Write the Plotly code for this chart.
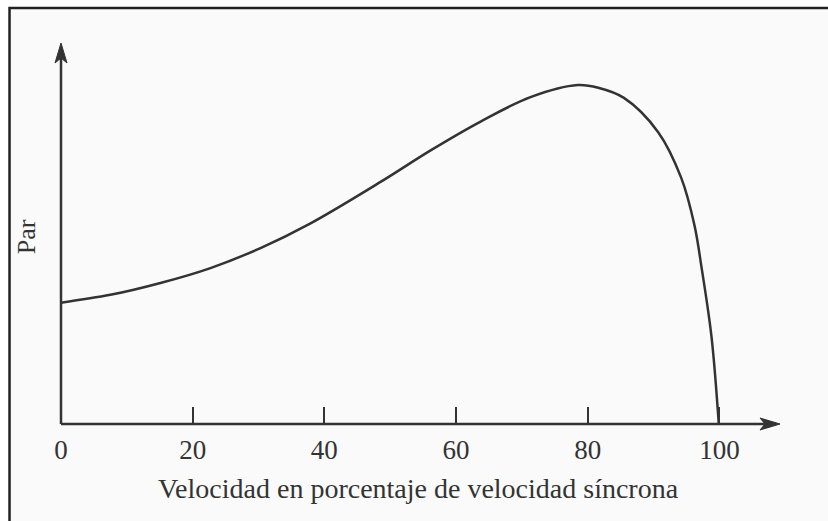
import plotly.graph_objects as go

# Curva par-velocidad de un motor de inducción (par en % del par máximo)
velocidad = [0, 7.5, 15.1, 22.7, 30.3, 37.9, 48.6, 56.2, 63.8, 71.4,
             78.5, 81.6, 85.5, 90.7, 94.2, 96.2, 97.3, 98.8, 99.9]
par = [35.8, 38.1, 41.6, 46.0, 51.9, 59.2, 71.5, 80.8, 89.3, 96.5,
       100.0, 99.2, 96.2, 86.1, 72.6, 58.7, 46.0, 25.7, 0.0]

ticks_x = [0, 20, 40, 60, 80, 100]

X_MAX = 109.2
Y_MAX = 112.4
COR_LINHA = "#333333"
FONTE = "Liberation Serif"

fig = go.Figure()
fig.add_trace(go.Scatter(
    x=velocidad, y=par,
    mode="lines",
    line=dict(color=COR_LINHA, width=2.5, shape="spline", smoothing=1.0),
    hoverinfo="skip",
    showlegend=False,
))

# ejes con flechas (en coordenadas de papel para que no se recorten)
eje = dict(color=COR_LINHA, width=2.5)
fig.add_shape(type="line", xref="paper", yref="paper",
              x0=0, y0=0, x1=0.985, y1=0, line=eje)
fig.add_shape(type="line", xref="paper", yref="paper",
              x0=0, y0=0, x1=0, y1=0.97, line=eje)
fig.add_shape(type="path", xref="paper", yref="paper",
              xsizemode="pixel", ysizemode="pixel", xanchor=1, yanchor=0,
              path="M 0,0 L -20,-6 L -15,0 L -20,6 Z",
              fillcolor=COR_LINHA, line=dict(color=COR_LINHA, width=1))
fig.add_shape(type="path", xref="paper", yref="paper",
              xsizemode="pixel", ysizemode="pixel", xanchor=0, yanchor=1,
              path="M 0,0 L -6,-20 L 0,-15 L 6,-20 Z",
              fillcolor=COR_LINHA, line=dict(color=COR_LINHA, width=1))

# marco de la figura escaneada
fig.add_shape(type="rect", xref="paper", yref="paper",
              x0=-0.0716, y0=-0.5, x1=1.5, y1=1.0919,
              fillcolor="#fafafa", line=dict(color="#222222", width=2.5),
              layer="below")

fig.add_annotation(
    text="Velocidad en porcentaje de velocidad síncrona",
    xref="paper", yref="paper", x=0.497, y=-0.168,
    xanchor="center", yanchor="middle", showarrow=False,
    font=dict(family=FONTE, size=28, color=COR_LINHA),
)
fig.add_annotation(
    text="Par", textangle=-90,
    xref="paper", yref="paper", x=-0.047, y=0.491,
    xanchor="center", yanchor="middle", showarrow=False,
    font=dict(family=FONTE, size=26, color=COR_LINHA),
)

fig.update_layout(
    width=828, height=521,
    margin=dict(l=61, r=48, t=43, b=97),
    paper_bgcolor="white",
    plot_bgcolor="rgba(0,0,0,0)",
    xaxis=dict(
        range=[0, X_MAX], showgrid=False, zeroline=False, showline=False,
        tickvals=ticks_x, ticks="inside", ticklen=17, tickwidth=2,
        tickcolor=COR_LINHA, ticklabelstandoff=7,
        tickfont=dict(family=FONTE, size=27, color=COR_LINHA),
    ),
    yaxis=dict(
        range=[0, Y_MAX], showgrid=False, zeroline=False, showline=False,
        showticklabels=False, ticks="",
    ),
)

fig.write_html("out.html", config={"displayModeBar": False},
               post_script="document.body.style.margin='0';")
